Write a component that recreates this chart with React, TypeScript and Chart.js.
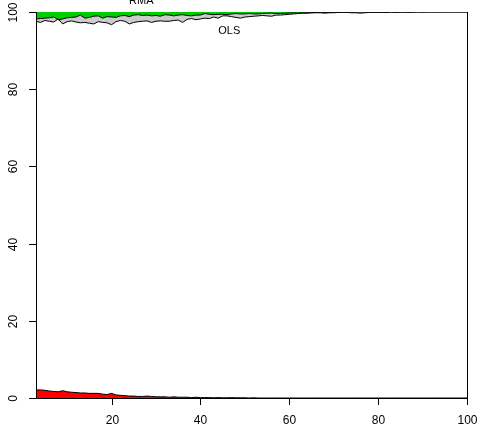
import React, { useEffect, useRef } from "react";
import { Chart, registerables } from "chart.js";

Chart.register(...registerables);

const xValues: number[] = Array.from({ length: 98 }, (_, i) => i + 3);

// Red (bottom) series, x = 3..100
const redValues: number[] = [
  2.1, 2.1, 2.0, 1.8, 1.7, 1.6, 1.9, 1.6, 1.5, 1.4,
  1.3, 1.3, 1.2, 1.2, 1.2, 1.0, 0.9, 1.2, 0.8, 0.7,
  0.6, 0.5, 0.5, 0.4, 0.4, 0.5, 0.4, 0.3, 0.3, 0.3,
  0.2, 0.3, 0.2, 0.2, 0.2, 0.1, 0.2, 0.1, 0.1, 0.1,
  0.05, 0.1, 0.05, 0.05, 0.1, 0.05, 0.05, 0.05, 0.0, 0.05,
  0, 0, 0, 0, 0, 0, 0, 0, 0, 0,
  0, 0, 0, 0, 0, 0, 0, 0, 0, 0,
  0, 0, 0, 0, 0, 0, 0, 0, 0, 0,
  0, 0, 0, 0, 0, 0, 0, 0, 0, 0,
  0, 0, 0, 0, 0, 0, 0, 0,
];

// OLS (lower line at top), x = 3..100
const olsValues: number[] = [
  97.6, 97.3, 97.8, 97.6, 97.4, 98.2, 96.9, 97.5, 97.7, 97.4,
  97.2, 97.3, 97.1, 96.9, 97.5, 97.3, 97.2, 96.7, 97.5, 97.8,
  97.6, 96.9, 97.3, 97.5, 97.6, 97.7, 97.3, 97.6, 97.7, 97.6,
  97.6, 97.8, 97.9, 97.3, 98.1, 98.3, 98.0, 98.2, 98.4, 98.3,
  98.7, 98.4, 99.0, 99.0, 98.8, 98.6, 98.4, 98.7, 98.8, 98.9,
  99.0, 99.1, 99.0, 98.9, 99.2, 99.2, 99.3, 99.4, 99.5, 99.6,
  99.7, 99.7, 99.8, 99.8, 99.8, 99.7, 99.8, 99.8, 99.9, 99.9,
  99.9, 99.8, 99.8, 99.7, 99.8, 99.9, 99.9, 99.9, 99.9, 99.9,
  99.95, 99.9, 99.95, 99.95, 99.9, 99.95, 100, 99.95, 100, 100,
  100, 100, 100, 100, 100, 100, 100, 100,
];

// RMA (upper line at top), x = 3..100
const rmaValues: number[] = [
  98.2, 98.3, 98.4, 98.5, 98.7, 98.0, 98.2, 98.5, 98.6, 98.7,
  99.2, 98.4, 98.6, 98.9, 99.0, 98.4, 98.8, 98.7, 98.6, 99.0,
  99.1, 98.8, 99.2, 99.3, 99.1, 99.2, 99.0, 99.1, 98.9, 99.3,
  99.2, 99.0, 99.2, 99.3, 99.1, 99.0, 99.2, 99.2, 99.6, 99.4,
  99.3, 99.4, 99.4, 99.3, 99.5, 99.6, 99.5, 99.5, 99.6, 99.5,
  99.5, 99.6, 99.7, 99.7, 99.6, 99.6, 99.7, 99.7, 99.8, 99.7,
  99.8, 99.8, 99.8, 99.9, 99.9, 99.9, 99.9, 99.95, 99.95, 99.95,
  100, 100, 100, 100, 100, 100, 100, 100, 100, 100,
  100, 100, 100, 100, 100, 100, 100, 100, 100, 100,
  100, 100, 100, 100, 100, 100, 100, 100,
];

const xTicks: number[] = [20, 40, 60, 80, 100];
const yTicks: number[] = [0, 20, 40, 60, 80, 100];

const annotations = [
  { text: "RMA", x: 26.7, y: 102.85 },
  { text: "OLS", x: 46.5, y: 95.2 },
];

const FONT = '"Liberation Sans", Arial, Helvetica, sans-serif';

const axesPlugin = {
  id: "rAxes",
  afterDraw(chart: any) {
    const ctx = chart.ctx;
    const xs = chart.scales.x;
    const ys = chart.scales.y;
    const a = chart.chartArea;
    ctx.save();
    ctx.strokeStyle = "#000";
    ctx.lineWidth = 1;
    ctx.beginPath();
    ctx.moveTo(a.left + 0.5, a.top);
    ctx.lineTo(a.left + 0.5, a.bottom + 0.5);
    ctx.lineTo(a.right + 0.5, a.bottom + 0.5);
    ctx.lineTo(a.right + 0.5, a.top);
    ctx.stroke();
    // x ticks
    ctx.fillStyle = "#000";
    ctx.font = "12px " + FONT;
    ctx.textAlign = "center";
    ctx.textBaseline = "middle";
    for (const t of xTicks) {
      const px = Math.round(xs.getPixelForValue(t)) + 0.5;
      ctx.beginPath();
      ctx.moveTo(px, a.bottom);
      ctx.lineTo(px, a.bottom + 7);
      ctx.stroke();
      ctx.fillText(String(t), px, a.bottom + 23);
    }
    for (const t of yTicks) {
      const py = Math.round(ys.getPixelForValue(t)) + 0.5;
      ctx.beginPath();
      ctx.moveTo(a.left, py);
      ctx.lineTo(a.left - 7, py);
      ctx.stroke();
      ctx.save();
      ctx.translate(a.left - 22, py);
      ctx.rotate(-Math.PI / 2);
      ctx.fillText(String(t), 0, 0);
      ctx.restore();
    }
    ctx.font = "11px " + FONT;
    for (const an of annotations) {
      ctx.fillText(an.text, xs.getPixelForValue(an.x), ys.getPixelForValue(an.y));
    }
    ctx.restore();
  },
};

export default function App() {
  const ref = useRef<HTMLCanvasElement | null>(null);
  useEffect(() => {
    if (!ref.current) return;
    const mk = (vals: number[]) => xValues.map((x, i) => ({ x, y: vals[i] }));
    const chart = new Chart(ref.current, {
      type: "line",
      data: {
        datasets: [
          {
            label: "red",
            data: mk(redValues),
            fill: "origin",
            backgroundColor: "#FF0000",
            borderColor: "#000",
            borderWidth: 1,
          },
          {
            label: "OLS",
            data: mk(olsValues),
            fill: "+1",
            backgroundColor: "#CCCCCC",
            borderColor: "#000",
            borderWidth: 1,
          },
          {
            label: "RMA",
            data: mk(rmaValues),
            fill: "end",
            backgroundColor: "#00CD00",
            borderColor: "#000",
            borderWidth: 1,
          },
        ],
      },
      options: {
        animation: false,
        responsive: false,
        layout: { padding: { left: 36, right: 24, top: 12, bottom: 37 } },
        elements: { point: { radius: 0 }, line: { tension: 0 } },
        scales: {
          x: { type: "linear", min: 3, max: 100, display: false },
          y: { type: "linear", min: 0, max: 100, display: false },
        },
        plugins: {
          legend: { display: false },
          tooltip: { enabled: false },
          filler: { drawTime: "beforeDatasetsDraw" },
        } as any,
      },
      plugins: [axesPlugin],
    });
    return () => chart.destroy();
  }, []);
  return (
    <div style={{ position: "absolute", left: 0, top: 0, width: 491, height: 435, background: "#fff" }}>
      <canvas ref={ref} width={491} height={435} />
    </div>
  );
}
